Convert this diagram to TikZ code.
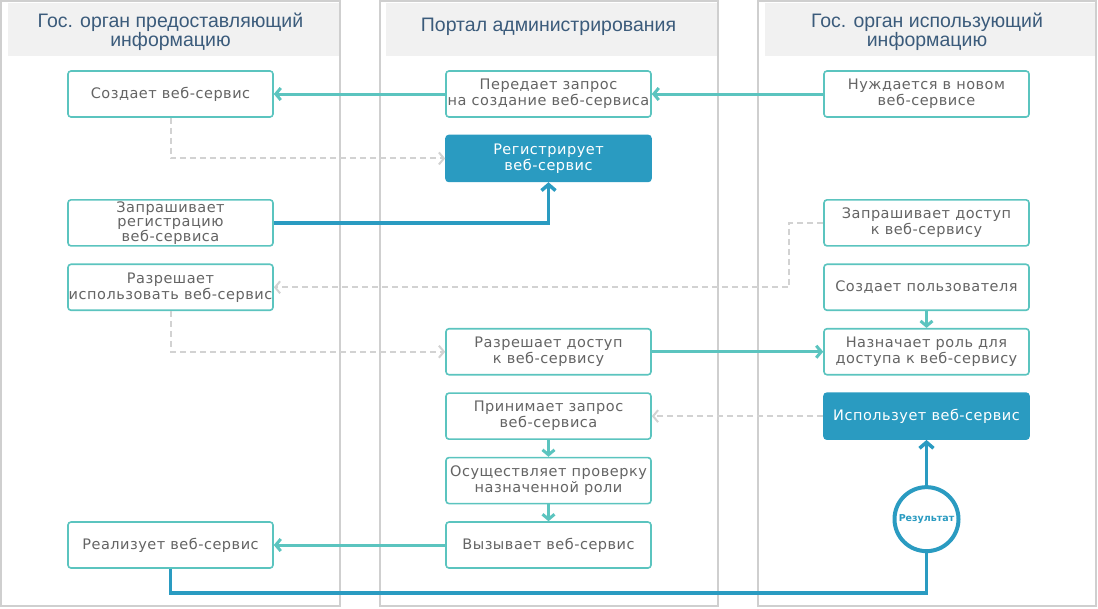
\documentclass[tikz,border=0pt]{standalone}
\usepackage{fontspec}
\setmainfont{DejaVu Sans}
\newfontfamily\boxfont[LetterSpace=3.5]{DejaVu Sans}
\newfontfamily\headfont{Liberation Sans}
\usetikzlibrary{arrows.meta}
\definecolor{flowteal}{HTML}{5BC4BF}
\definecolor{svcblue}{HTML}{2A9BC1}
\definecolor{lanegray}{HTML}{CFCFCF}
\definecolor{headgray}{HTML}{F1F1F1}
\definecolor{hintgray}{HTML}{D2D2D2}
\definecolor{boxtext}{HTML}{646464}
\definecolor{headtext}{HTML}{3B5B7B}

\begin{document}
\begin{tikzpicture}[x=1pt,y=-1pt,node distance=64.43pt,
    act node/.style={draw=flowteal,line width=1.6pt,rounded corners=3pt,fill=white,
      minimum width=205pt,minimum height=46pt,inner sep=0pt,align=center,
      text=boxtext,font=\boxfont\fontsize{14.5}{16}\selectfont},
    key node/.style={act node,draw=svcblue,fill=svcblue,text=white},
    result node/.style={circle,draw=svcblue,line width=4pt,fill=white,minimum size=64pt,
      inner sep=0pt,text=svcblue,font=\bfseries\fontsize{9.5}{10}\selectfont},
    lane title/.style={align=center,text=headtext,font=\headfont\fontsize{19.5}{19.5}\selectfont},
    flow/.style={draw=flowteal,line width=3pt,-{Straight Barb[length=5pt,width=12pt]}},
    key flow/.style={draw=svcblue,line width=3.5pt,-{Straight Barb[length=6pt,width=14pt]}},
    hint/.style={draw=hintgray,line width=2pt,dash pattern=on 6pt off 4pt,
      -{Straight Barb[length=5pt,width=12pt]}}]

    \useasboundingbox (0,0) rectangle (1098,608);

    % Lanes
    \draw[lanegray,line width=1.2pt] (1,1) rectangle (340,606);
    \draw[lanegray,line width=1.2pt] (380,1) rectangle (718,606);
    \draw[lanegray,line width=1.2pt] (758,1) rectangle (1096,606);
    \fill[headgray] (8,3) rectangle (339,56);
    \fill[headgray] (386,3) rectangle (717,56);
    \fill[headgray] (765,3) rectangle (1095,56);
    \node[lane title] (a) at (170.5,32) {Гос. орган предоставляющий\\информацию};
    \node[lane title] (b) at (548.5,27) {Портал администрирования};
    \node[lane title] (c) at (927,32) {Гос. орган использующий\\информацию};

    % Portal, upper part
    \node[act node] (0) at (548.5,94) {Передает запрос\\на создание веб-сервиса};
    \node[key node] (1) [below of=0] {Регистрирует\\веб-сервис};

    % Using body
    \node[act node] (2) [node distance=378pt,right of=0] {Нуждается в новом\\веб-сервисе};
    \node[act node] (3) [node distance=128.86pt,below of=2] {Запрашивает доступ\\к веб-сервису};
    \node[act node] (4) [below of=3] {Создает пользователя};
    \node[act node] (5) [below of=4] {Назначает роль для\\доступа к веб-сервису};
    \node[key node] (6) [below of=5] {Использует веб-сервис};
    \node[result node] (7) [node distance=103pt,below of=6] {Результат};

    % Portal, lower part
    \node[act node] (8) [node distance=378pt,left of=5] {Разрешает доступ\\к веб-сервису};
    \node[act node] (9) [below of=8] {Принимает запрос\\веб-сервиса};
    \node[act node] (10) [below of=9] {Осуществляет проверку\\назначенной роли};
    \node[act node] (11) [below of=10] {Вызывает веб-сервис};

    % Providing body
    \node[act node] (12) [node distance=378pt,left of=0] {Создает веб-сервис};
    \node[act node] (13) [node distance=128.86pt,below of=12,
      font=\boxfont\fontsize{14.5}{14.5}\selectfont] {Запрашивает\\регистрацию\\веб-сервиса};
    \node[act node] (14) [below of=13] {Разрешает\\использовать веб-сервис};
    \node[act node] (15) [node distance=378pt,left of=11] {Реализует веб-сервис};
    \coordinate (16) at (0,593);

    % Solid flows
    \path[flow]
    (2) edge (0)
    (0) edge (12)
    (4) edge (5)
    (8) edge (5)
    (9) edge (10)
    (10) edge (11)
    (11) edge (15);

    % Dashed hints
    \draw[hint] (12) |- (1);
    \draw[hint] (3.west) -- ++(-34,0) |- (14);
    \draw[hint] (14) |- (8);
    \draw[hint] (6) -- (9);

    % Key flows
    \draw[key flow] (13) -| (1);
    \draw[key flow,-] (15) |- (7 |- 16) -- (7);
    \draw[key flow] (7) -- (6);
  \end{tikzpicture}
\end{document}
